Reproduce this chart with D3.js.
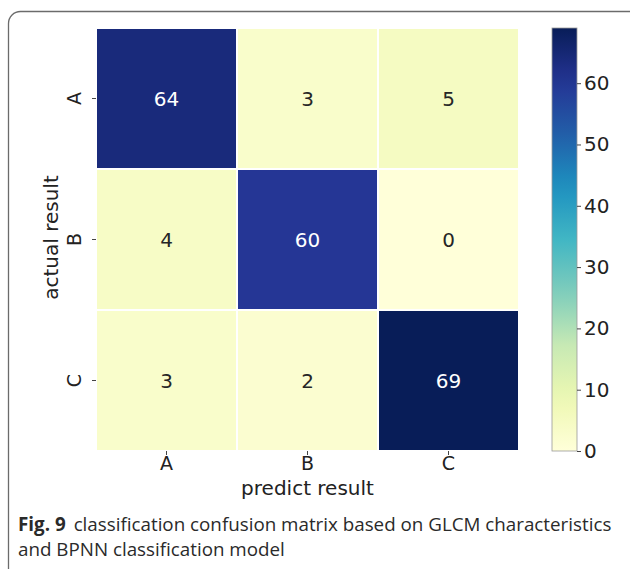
<!DOCTYPE html>
<html>
<head>
<meta charset="utf-8">
<script src="https://cdn.jsdelivr.net/npm/d3@7"></script>
<style>
  body { margin: 0; background: #fff; }
  svg { display: block; }
</style>
</head>
<body>
<svg id="chart" width="630" height="569"></svg>
<script>
const rowLabels = ['A', 'B', 'C'];
const colLabels = ['A', 'B', 'C'];
const matrix = [
  [64, 3, 5],
  [4, 60, 0],
  [3, 2, 69]
];
const cbarTicks = [0, 10, 20, 30, 40, 50, 60];
const vmax = 69;

const svg = d3.select('#chart');
const font = "'DejaVu Sans', sans-serif";

// card border
svg.append('rect')
  .attr('x', 8.5).attr('y', 11.5)
  .attr('width', 640).attr('height', 600)
  .attr('rx', 12)
  .attr('fill', 'none')
  .attr('stroke', '#6b6b6b')
  .attr('stroke-width', 1.3);

const mLeft = 96, mTop = 28, size = 423;
const x = d3.scaleBand().domain(colLabels).range([mLeft, mLeft + size]);
const y = d3.scaleBand().domain(rowLabels).range([mTop, mTop + size]);

const stops = d3.schemeYlGnBu[9];
const color = d3.scaleLinear()
  .domain(stops.map((_, i) => i * vmax / (stops.length - 1)))
  .range(stops);

const cells = [];
matrix.forEach((row, i) => row.forEach((v, j) => cells.push({ r: rowLabels[i], c: colLabels[j], v })));

svg.append('g').selectAll('rect')
  .data(cells)
  .enter().append('rect')
  .attr('x', d => x(d.c))
  .attr('y', d => y(d.r))
  .attr('width', x.bandwidth())
  .attr('height', y.bandwidth())
  .attr('fill', d => color(d.v))
  .attr('stroke', '#fff')
  .attr('stroke-width', 2);

svg.append('g').selectAll('text')
  .data(cells)
  .enter().append('text')
  .attr('x', d => x(d.c) + x.bandwidth() / 2)
  .attr('y', d => y(d.r) + y.bandwidth() / 2)
  .attr('dy', '0.36em')
  .attr('text-anchor', 'middle')
  .style('font-family', font)
  .style('font-size', '20px')
  .attr('fill', d => d.v > 35 ? '#fff' : '#262626')
  .text(d => d.v);

// x axis
const xAxis = svg.append('g')
  .attr('transform', `translate(0,${mTop + size})`)
  .call(d3.axisBottom(x).tickSize(4).tickPadding(2));
xAxis.select('.domain').remove();
xAxis.selectAll('line').attr('stroke', '#444');
xAxis.selectAll('text')
  .style('font-family', font).style('font-size', '19px').attr('fill', '#222');

svg.append('text')
  .attr('x', mLeft + size / 2).attr('y', 495)
  .attr('text-anchor', 'middle')
  .style('font-family', font).style('font-size', '20px')
  .attr('fill', '#222')
  .text('predict result');

// y axis
const yAxis = svg.append('g')
  .attr('transform', `translate(${mLeft},0)`)
  .call(d3.axisLeft(y).tickSize(4).tickPadding(6));
yAxis.select('.domain').remove();
yAxis.selectAll('line').attr('stroke', '#444');
yAxis.selectAll('text')
  .style('font-family', font).style('font-size', '19px').attr('fill', '#222')
  .attr('text-anchor', 'middle')
  .attr('x', 0).attr('y', 0).attr('dy', '0.36em')
  .attr('transform', 'translate(-22,0) rotate(-90)');

svg.append('text')
  .attr('transform', `translate(58,${mTop + size / 2 - 2}) rotate(-90)`)
  .attr('text-anchor', 'middle')
  .style('font-family', font).style('font-size', '20px')
  .attr('fill', '#222')
  .text('actual result');

// colorbar
const cbX = 552, cbW = 25;
const cy = d3.scaleLinear().domain([0, vmax]).range([mTop + size, mTop]);
const defs = svg.append('defs');
const grad = defs.append('linearGradient')
  .attr('id', 'cbar').attr('x1', 0).attr('y1', 1).attr('x2', 0).attr('y2', 0);
grad.selectAll('stop')
  .data(d3.range(0, 1.0001, 0.05))
  .enter().append('stop')
  .attr('offset', d => d)
  .attr('stop-color', d => color(d * vmax));
svg.append('rect')
  .attr('x', cbX).attr('y', mTop)
  .attr('width', cbW).attr('height', size)
  .attr('fill', 'url(#cbar)')
  .attr('stroke', '#999').attr('stroke-width', 0.8);

const cAxis = svg.append('g')
  .attr('transform', `translate(${cbX + cbW},0)`)
  .call(d3.axisRight(cy).tickValues(cbarTicks).tickSize(4).tickPadding(3));
cAxis.select('.domain').remove();
cAxis.selectAll('line').attr('stroke', '#444');
cAxis.selectAll('text')
  .style('font-family', font).style('font-size', '20px').attr('fill', '#222');

// caption
const capFont = "'Open Sans', sans-serif";
const cap = svg.append('text')
  .attr('x', 18).attr('y', 531)
  .style('font-family', capFont).style('font-size', '18.8px')
  .attr('fill', '#2a2a2a');
cap.append('tspan').style('font-weight', 'bold').text('Fig. 9');
cap.append('tspan').attr('dx', 8).text('classification confusion matrix based on GLCM characteristics');
svg.append('text')
  .attr('x', 18).attr('y', 556)
  .style('font-family', capFont).style('font-size', '18.8px')
  .attr('fill', '#2a2a2a')
  .text('and BPNN classification model');
</script>
</body>
</html>
